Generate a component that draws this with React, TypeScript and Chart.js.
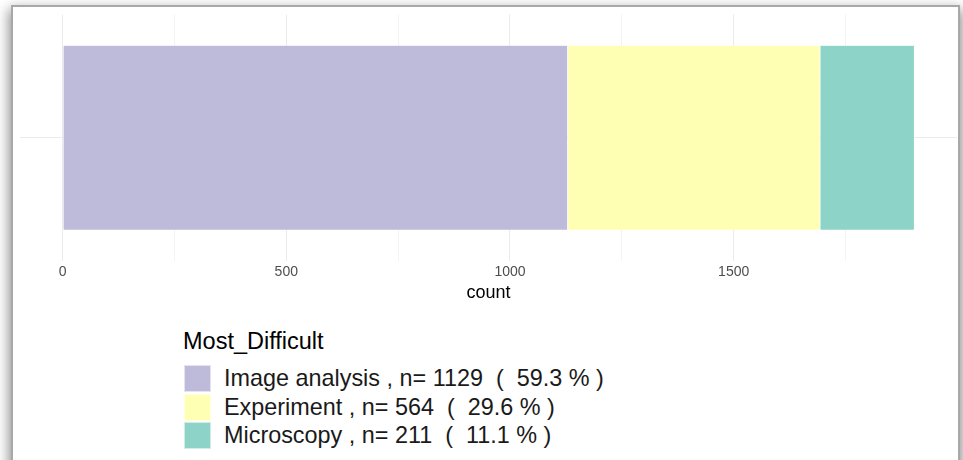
import React, { useEffect, useRef } from "react";
import { Chart, registerables } from "chart.js";

Chart.register(...registerables);

const categories = ["Image analysis", "Experiment", "Microscopy"];
const counts = [1129, 564, 211];
const colors = ["#BEBADA", "#FFFFB3", "#8DD3C7"];
const tickValues = [0, 250, 500, 750, 1000, 1250, 1500, 1750];
const labeledTicks = [0, 500, 1000, 1500];
const legendTitle = "Most_Difficult";
const axisTitle = "count";

const FONT = "'Liberation Sans', Arial, Helvetica, sans-serif";

export default function App() {
  const ref = useRef<HTMLCanvasElement | null>(null);
  const total = counts.reduce((a, b) => a + b, 0);
  const xmin = -total * 0.05;
  const xmax = total * 1.05;

  useEffect(() => {
    if (!ref.current) return;
    const chart = new Chart(ref.current, {
      type: "bar",
      data: {
        labels: [""],
        datasets: categories.map((c, i) => ({
          label: c,
          data: [counts[i]],
          backgroundColor: colors[i],
          borderColor: "rgba(255,255,255,0.5)",
          borderWidth: 0.5,
          borderSkipped: false,
          categoryPercentage: 0.75,
          barPercentage: 1,
        })),
      },
      options: {
        indexAxis: "y",
        animation: false,
        responsive: false,
        maintainAspectRatio: false,
        layout: { padding: { left: 20, right: 6, top: 14.5, bottom: 2 } },
        plugins: { legend: { display: false }, tooltip: { enabled: false } },
        scales: {
          x: {
            type: "linear",
            stacked: true,
            min: xmin,
            max: xmax,
            afterBuildTicks: (scale: any) => {
              scale.ticks = tickValues.map((v) => ({ value: v }));
            },
            border: { display: false },
            grid: {
              drawTicks: false,
              color: (ctx: any) =>
                labeledTicks.includes(ctx.tick?.value) ? "#ebebeb" : "#f3f3f3",
              lineWidth: 1,
            },
            ticks: {
              autoSkip: false,
              maxRotation: 0,
              padding: 4.5,
              color: "#4d4d4d",
              font: { family: FONT, size: 14, lineHeight: 1 },
              callback: (v: any) => (labeledTicks.includes(Number(v)) ? String(v) : ""),
            },
            title: {
              display: true,
              text: axisTitle,
              color: "#000000",
              padding: { top: 0, bottom: 0 },
              font: { family: FONT, size: 18, lineHeight: 1 },
            },
          },
          y: {
            stacked: true,
            border: { display: false },
            grid: { drawTicks: false, offset: false, color: "#ebebeb", lineWidth: 1 },
            ticks: { display: false },
          },
        },
      },
    });
    return () => chart.destroy();
  }, []);

  const legendLabels = categories.map(
    (c, i) => `${c} , n= ${counts[i]}  (  ${((counts[i] / total) * 100).toFixed(1)} % )`
  );

  return (
    <div
      style={{
        position: "fixed",
        left: 0,
        top: 0,
        width: 963,
        height: 460,
        background: "#ffffff",
        overflow: "hidden",
        fontFamily: FONT,
      }}
    >
      <div
        style={{
          position: "absolute",
          left: 11,
          top: 5,
          width: 945,
          height: 520,
          border: "2px solid #a8a8a8",
          background: "#ffffff",
          boxShadow: "0 6px 12px 2px rgba(0,0,0,0.45)",
        }}
      />
      <canvas
        ref={ref}
        width={963}
        height={304}
        style={{ position: "absolute", left: 0, top: 0, width: 963, height: 304 }}
      />
      <div
        style={{
          position: "absolute",
          left: 183,
          top: 326,
          fontSize: 23.5,
          color: "#000",
          lineHeight: "30px",
          whiteSpace: "pre",
        }}
      >
        {legendTitle}
      </div>
      {legendLabels.map((t, i) => (
        <div
          key={i}
          style={{
            position: "absolute",
            left: 184,
            top: 365 + i * 28.5,
            height: 27,
            display: "flex",
            alignItems: "center",
            whiteSpace: "pre",
          }}
        >
          <div
            style={{
              width: 27,
              height: 27,
              background: colors[i],
              boxSizing: "border-box",
              border: "1px solid rgba(255,255,255,0.6)",
            }}
          />
          <span style={{ marginLeft: 13, fontSize: 23.4, color: "#1a1a1a", lineHeight: "27px" }}>{t}</span>
        </div>
      ))}
    </div>
  );
}
